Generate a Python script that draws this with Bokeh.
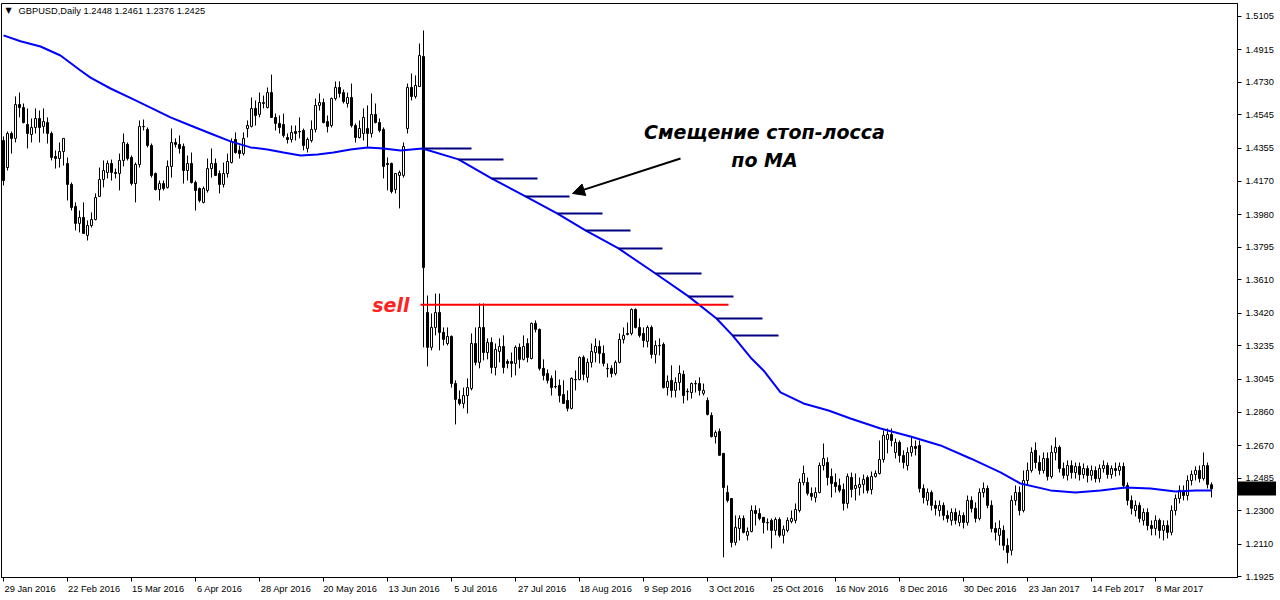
import pandas as pd
from bokeh.plotting import figure
from bokeh.models import (ColumnDataSource, Range1d, FixedTicker, PrintfTickFormatter,
                          CustomJSTickFormatter, Label, Arrow, NormalHead)
from bokeh.embed import file_html
from bokeh.resources import INLINE

# ---------------- data (GBPUSD daily) ----------------
dates = pd.bdate_range("2016-01-29", periods=303)

opens = [
    1.4400, 1.4247, 1.4440, 1.4412, 1.4604, 1.4587, 1.4491, 1.4434, 1.4474, 1.4525,
    1.4480, 1.4502, 1.4440, 1.4309, 1.4298, 1.4338, 1.4270, 1.4151, 1.4026, 1.3930,
    1.3964, 1.3862, 1.3918, 1.3952, 1.4083, 1.4179, 1.4219, 1.4270, 1.4219, 1.4213,
    1.4287, 1.4378, 1.4304, 1.4156, 1.4264, 1.4480, 1.4463, 1.4372, 1.4213, 1.4122,
    1.4156, 1.4134, 1.4253, 1.4389, 1.4378, 1.4366, 1.4230, 1.4270, 1.4162, 1.4128,
    1.4049, 1.4117, 1.4241, 1.4270, 1.4213, 1.4151, 1.4213, 1.4275, 1.4406, 1.4344,
    1.4326, 1.4468, 1.4480, 1.4582, 1.4548, 1.4610, 1.4587, 1.4672, 1.4531, 1.4497,
    1.4491, 1.4417, 1.4406, 1.4451, 1.4451, 1.4457, 1.4355, 1.4400, 1.4463, 1.4599,
    1.4616, 1.4508, 1.4485, 1.4638, 1.4701, 1.4672, 1.4610, 1.4644, 1.4485, 1.4417,
    1.4440, 1.4468, 1.4440, 1.4548, 1.4502, 1.4463, 1.4270, 1.4270, 1.4122, 1.4202,
    1.4202, 1.4468, 1.4701, 1.4650, 1.4706, 1.4876, 1.3425, 1.3227, 1.3340, 1.3425,
    1.3312, 1.3249, 1.3289, 1.3022, 1.2932, 1.2909, 1.2954, 1.2994, 1.3249, 1.3142,
    1.3340, 1.3198, 1.3255, 1.3113, 1.3204, 1.3232, 1.3147, 1.3147, 1.3136, 1.3227,
    1.3159, 1.3249, 1.3164, 1.3363, 1.3329, 1.3108, 1.3079, 1.3051, 1.3005, 1.3011,
    1.2960, 1.2926, 1.2881, 1.3045, 1.3045, 1.3170, 1.3057, 1.3142, 1.3198, 1.3232,
    1.3193, 1.3108, 1.3108, 1.3079, 1.3142, 1.3272, 1.3300, 1.3306, 1.3442, 1.3340,
    1.3306, 1.3261, 1.3340, 1.3187, 1.3238, 1.3244, 1.2999, 1.3040, 1.2983, 1.3028,
    1.3074, 1.2977, 1.2971, 1.3022, 1.3022, 1.2966, 1.2926, 1.2841, 1.2721, 1.2750,
    1.2626, 1.2404, 1.2370, 1.2121, 1.2200, 1.2257, 1.2161, 1.2183, 1.2302, 1.2285,
    1.2263, 1.2234, 1.2246, 1.2189, 1.2251, 1.2161, 1.2189, 1.2240, 1.2246, 1.2302,
    1.2461, 1.2461, 1.2399, 1.2376, 1.2404, 1.2557, 1.2574, 1.2495, 1.2461, 1.2444,
    1.2421, 1.2342, 1.2489, 1.2427, 1.2433, 1.2450, 1.2489, 1.2421, 1.2495, 1.2512,
    1.2591, 1.2705, 1.2733, 1.2631, 1.2688, 1.2614, 1.2557, 1.2631, 1.2665, 1.2671,
    1.2427, 1.2359, 1.2404, 1.2331, 1.2302, 1.2331, 1.2274, 1.2246, 1.2291, 1.2234,
    1.2274, 1.2234, 1.2359, 1.2314, 1.2257, 1.2404, 1.2427, 1.2331, 1.2200, 1.2161,
    1.2189, 1.2104, 1.2076, 1.2359, 1.2404, 1.2302, 1.2472, 1.2529, 1.2643, 1.2574,
    1.2529, 1.2597, 1.2495, 1.2631, 1.2660, 1.2540, 1.2501, 1.2557, 1.2517, 1.2552,
    1.2506, 1.2540, 1.2501, 1.2529, 1.2483, 1.2540, 1.2557, 1.2506, 1.2540, 1.2529,
    1.2552, 1.2444, 1.2359, 1.2302, 1.2331, 1.2246, 1.2291, 1.2217, 1.2200, 1.2246,
    1.2189, 1.2217, 1.2178, 1.2302, 1.2370, 1.2416, 1.2387, 1.2472, 1.2506, 1.2529,
    1.2483, 1.2557, 1.2448,
]

highs = [
    1.4423, 1.4451, 1.4451, 1.4650, 1.4672, 1.4610, 1.4582, 1.4525, 1.4582, 1.4570,
    1.4582, 1.4531, 1.4451, 1.4344, 1.4389, 1.4412, 1.4304, 1.4162, 1.4049, 1.4003,
    1.4049, 1.3947, 1.3992, 1.4100, 1.4247, 1.4287, 1.4287, 1.4292, 1.4241, 1.4326,
    1.4440, 1.4389, 1.4315, 1.4275, 1.4514, 1.4519, 1.4474, 1.4383, 1.4219, 1.4173,
    1.4173, 1.4287, 1.4468, 1.4412, 1.4429, 1.4383, 1.4315, 1.4332, 1.4173, 1.4134,
    1.4139, 1.4298, 1.4355, 1.4298, 1.4230, 1.4275, 1.4326, 1.4412, 1.4446, 1.4372,
    1.4446, 1.4514, 1.4644, 1.4627, 1.4672, 1.4655, 1.4701, 1.4774, 1.4553, 1.4542,
    1.4553, 1.4440, 1.4485, 1.4485, 1.4531, 1.4468, 1.4417, 1.4514, 1.4638, 1.4667,
    1.4638, 1.4542, 1.4644, 1.4735, 1.4735, 1.4689, 1.4672, 1.4723, 1.4497, 1.4514,
    1.4582, 1.4599, 1.4667, 1.4610, 1.4525, 1.4474, 1.4304, 1.4275, 1.4213, 1.4230,
    1.4389, 1.4723, 1.4780, 1.4769, 1.4950, 1.5024, 1.3521, 1.3419, 1.3532, 1.3532,
    1.3340, 1.3340, 1.3295, 1.3040, 1.2983, 1.2999, 1.3051, 1.3306, 1.3340, 1.3476,
    1.3476, 1.3278, 1.3283, 1.3249, 1.3278, 1.3295, 1.3159, 1.3198, 1.3238, 1.3249,
    1.3295, 1.3278, 1.3368, 1.3380, 1.3334, 1.3159, 1.3102, 1.3068, 1.3096, 1.3045,
    1.3040, 1.2983, 1.3057, 1.3096, 1.3176, 1.3181, 1.3164, 1.3249, 1.3278, 1.3266,
    1.3238, 1.3136, 1.3125, 1.3153, 1.3306, 1.3340, 1.3368, 1.3448, 1.3448, 1.3391,
    1.3340, 1.3351, 1.3351, 1.3266, 1.3278, 1.3255, 1.3068, 1.3125, 1.3057, 1.3125,
    1.3096, 1.2994, 1.3028, 1.3040, 1.3057, 1.3022, 1.2943, 1.2858, 1.2756, 1.2767,
    1.2626, 1.2444, 1.2370, 1.2274, 1.2274, 1.2274, 1.2206, 1.2331, 1.2331, 1.2314,
    1.2263, 1.2257, 1.2257, 1.2263, 1.2263, 1.2217, 1.2263, 1.2302, 1.2342, 1.2483,
    1.2557, 1.2489, 1.2433, 1.2433, 1.2574, 1.2682, 1.2603, 1.2540, 1.2512, 1.2483,
    1.2455, 1.2512, 1.2517, 1.2512, 1.2489, 1.2506, 1.2501, 1.2523, 1.2529, 1.2699,
    1.2756, 1.2767, 1.2767, 1.2710, 1.2699, 1.2643, 1.2660, 1.2716, 1.2699, 1.2699,
    1.2450, 1.2427, 1.2416, 1.2359, 1.2359, 1.2348, 1.2302, 1.2314, 1.2314, 1.2302,
    1.2291, 1.2387, 1.2382, 1.2348, 1.2427, 1.2461, 1.2444, 1.2359, 1.2234, 1.2246,
    1.2217, 1.2144, 1.2387, 1.2444, 1.2438, 1.2529, 1.2574, 1.2660, 1.2688, 1.2614,
    1.2631, 1.2631, 1.2671, 1.2716, 1.2671, 1.2574, 1.2586, 1.2586, 1.2574, 1.2574,
    1.2569, 1.2557, 1.2557, 1.2552, 1.2563, 1.2586, 1.2574, 1.2557, 1.2574, 1.2574,
    1.2574, 1.2461, 1.2387, 1.2359, 1.2348, 1.2314, 1.2314, 1.2246, 1.2274, 1.2257,
    1.2246, 1.2246, 1.2331, 1.2393, 1.2444, 1.2444, 1.2501, 1.2529, 1.2552, 1.2557,
    1.2631, 1.2574, 1.2461,
]

lows = [
    1.4145, 1.4230, 1.4326, 1.4389, 1.4531, 1.4497, 1.4355, 1.4389, 1.4440, 1.4389,
    1.4440, 1.4383, 1.4287, 1.4241, 1.4247, 1.4258, 1.4060, 1.4003, 1.3890, 1.3879,
    1.3873, 1.3833, 1.3907, 1.3947, 1.4083, 1.4134, 1.4185, 1.4173, 1.4185, 1.4117,
    1.4253, 1.4287, 1.4145, 1.4049, 1.4247, 1.4457, 1.4361, 1.4190, 1.4117, 1.4060,
    1.4117, 1.4128, 1.4190, 1.4361, 1.4326, 1.4156, 1.4173, 1.4156, 1.4003, 1.4049,
    1.4043, 1.4105, 1.4190, 1.4202, 1.4100, 1.4134, 1.4190, 1.4270, 1.4326, 1.4298,
    1.4315, 1.4417, 1.4474, 1.4485, 1.4531, 1.4582, 1.4582, 1.4531, 1.4457, 1.4440,
    1.4417, 1.4383, 1.4389, 1.4400, 1.4412, 1.4344, 1.4332, 1.4389, 1.4446, 1.4570,
    1.4497, 1.4446, 1.4474, 1.4627, 1.4644, 1.4610, 1.4587, 1.4474, 1.4389, 1.4412,
    1.4400, 1.4361, 1.4417, 1.4497, 1.4446, 1.4185, 1.4117, 1.4100, 1.4100, 1.4015,
    1.4190, 1.4440, 1.4627, 1.4638, 1.4706, 1.3227, 1.3119, 1.3210, 1.3295, 1.3210,
    1.3238, 1.3238, 1.2999, 1.2790, 1.2898, 1.2881, 1.2852, 1.2983, 1.3125, 1.3108,
    1.3153, 1.3159, 1.3079, 1.3068, 1.3142, 1.3079, 1.3108, 1.3057, 1.3068, 1.3108,
    1.3153, 1.3142, 1.3159, 1.3312, 1.3096, 1.3040, 1.3022, 1.2954, 1.2994, 1.2915,
    1.2909, 1.2864, 1.2875, 1.2983, 1.3040, 1.3040, 1.3028, 1.3113, 1.3142, 1.3136,
    1.3119, 1.3057, 1.3057, 1.3068, 1.3136, 1.3249, 1.3295, 1.3295, 1.3334, 1.3283,
    1.3227, 1.3227, 1.3164, 1.3136, 1.3181, 1.2994, 1.2954, 1.2943, 1.2943, 1.2983,
    1.2909, 1.2926, 1.2937, 1.2971, 1.2954, 1.2954, 1.2841, 1.2716, 1.2682, 1.2615,
    1.2036, 1.2348, 1.2093, 1.2104, 1.2132, 1.2172, 1.2132, 1.2178, 1.2217, 1.2246,
    1.2172, 1.2189, 1.2087, 1.2161, 1.2149, 1.2115, 1.2178, 1.2229, 1.2229, 1.2291,
    1.2444, 1.2387, 1.2359, 1.2348, 1.2399, 1.2529, 1.2444, 1.2376, 1.2404, 1.2404,
    1.2302, 1.2314, 1.2376, 1.2359, 1.2387, 1.2399, 1.2399, 1.2393, 1.2489, 1.2506,
    1.2574, 1.2626, 1.2665, 1.2597, 1.2574, 1.2540, 1.2529, 1.2608, 1.2614, 1.2404,
    1.2342, 1.2331, 1.2302, 1.2274, 1.2268, 1.2246, 1.2234, 1.2217, 1.2223, 1.2212,
    1.2200, 1.2217, 1.2291, 1.2234, 1.2246, 1.2376, 1.2314, 1.2178, 1.2132, 1.2104,
    1.2076, 1.2002, 1.2047, 1.2331, 1.2274, 1.2291, 1.2444, 1.2517, 1.2540, 1.2506,
    1.2512, 1.2472, 1.2483, 1.2586, 1.2517, 1.2483, 1.2472, 1.2483, 1.2483, 1.2472,
    1.2483, 1.2461, 1.2472, 1.2461, 1.2461, 1.2517, 1.2483, 1.2483, 1.2495, 1.2501,
    1.2427, 1.2331, 1.2280, 1.2268, 1.2234, 1.2217, 1.2189, 1.2161, 1.2161, 1.2144,
    1.2132, 1.2144, 1.2161, 1.2274, 1.2342, 1.2359, 1.2359, 1.2444, 1.2472, 1.2461,
    1.2472, 1.2427, 1.2376,
]

closes = [
    1.4173, 1.4440, 1.4412, 1.4604, 1.4587, 1.4502, 1.4440, 1.4474, 1.4525, 1.4474,
    1.4508, 1.4440, 1.4304, 1.4298, 1.4338, 1.4412, 1.4151, 1.4020, 1.3930, 1.3964,
    1.3873, 1.3918, 1.3952, 1.4077, 1.4179, 1.4230, 1.4270, 1.4219, 1.4213, 1.4287,
    1.4389, 1.4298, 1.4156, 1.4264, 1.4480, 1.4478, 1.4372, 1.4202, 1.4122, 1.4156,
    1.4128, 1.4253, 1.4389, 1.4378, 1.4355, 1.4230, 1.4270, 1.4162, 1.4117, 1.4060,
    1.4128, 1.4241, 1.4270, 1.4202, 1.4151, 1.4213, 1.4281, 1.4395, 1.4332, 1.4326,
    1.4412, 1.4485, 1.4582, 1.4542, 1.4616, 1.4616, 1.4672, 1.4531, 1.4497, 1.4474,
    1.4429, 1.4406, 1.4446, 1.4440, 1.4449, 1.4372, 1.4406, 1.4463, 1.4599, 1.4616,
    1.4502, 1.4480, 1.4638, 1.4701, 1.4667, 1.4621, 1.4644, 1.4485, 1.4417, 1.4468,
    1.4531, 1.4440, 1.4548, 1.4502, 1.4457, 1.4253, 1.4264, 1.4111, 1.4213, 1.4219,
    1.4366, 1.4701, 1.4650, 1.4712, 1.4882, 1.3680, 1.3227, 1.3340, 1.3425, 1.3312,
    1.3272, 1.3289, 1.3022, 1.2932, 1.2909, 1.2954, 1.2999, 1.3249, 1.3142, 1.3340,
    1.3198, 1.3255, 1.3113, 1.3215, 1.3232, 1.3113, 1.3136, 1.3136, 1.3227, 1.3159,
    1.3232, 1.3170, 1.3363, 1.3329, 1.3108, 1.3068, 1.3040, 1.2999, 1.3003, 1.2954,
    1.2909, 1.2881, 1.3051, 1.3043, 1.3170, 1.3074, 1.3142, 1.3204, 1.3232, 1.3193,
    1.3136, 1.3106, 1.3079, 1.3142, 1.3272, 1.3295, 1.3306, 1.3442, 1.3340, 1.3295,
    1.3266, 1.3340, 1.3187, 1.3238, 1.3236, 1.2999, 1.3034, 1.2983, 1.3028, 1.3079,
    1.2954, 1.2975, 1.3022, 1.3020, 1.2983, 1.2983, 1.2847, 1.2721, 1.2744, 1.2615,
    1.2432, 1.2359, 1.2121, 1.2206, 1.2257, 1.2178, 1.2183, 1.2302, 1.2285, 1.2257,
    1.2234, 1.2232, 1.2189, 1.2251, 1.2161, 1.2195, 1.2246, 1.2257, 1.2308, 1.2461,
    1.2512, 1.2399, 1.2382, 1.2404, 1.2557, 1.2597, 1.2489, 1.2455, 1.2438, 1.2416,
    1.2342, 1.2495, 1.2421, 1.2444, 1.2450, 1.2478, 1.2416, 1.2495, 1.2512, 1.2591,
    1.2728, 1.2733, 1.2699, 1.2688, 1.2614, 1.2574, 1.2631, 1.2665, 1.2654, 1.2427,
    1.2376, 1.2404, 1.2331, 1.2314, 1.2331, 1.2274, 1.2257, 1.2291, 1.2246, 1.2274,
    1.2234, 1.2359, 1.2314, 1.2257, 1.2404, 1.2427, 1.2331, 1.2200, 1.2178, 1.2200,
    1.2104, 1.2064, 1.2359, 1.2404, 1.2302, 1.2472, 1.2529, 1.2631, 1.2574, 1.2529,
    1.2597, 1.2495, 1.2631, 1.2660, 1.2540, 1.2501, 1.2557, 1.2517, 1.2552, 1.2506,
    1.2540, 1.2501, 1.2529, 1.2483, 1.2540, 1.2557, 1.2506, 1.2540, 1.2529, 1.2552,
    1.2444, 1.2359, 1.2314, 1.2331, 1.2257, 1.2291, 1.2217, 1.2200, 1.2246, 1.2189,
    1.2217, 1.2178, 1.2302, 1.2370, 1.2416, 1.2387, 1.2472, 1.2506, 1.2529, 1.2483,
    1.2557, 1.2450, 1.2425,
]

# moving average (bar position, price)
ma_bar = [0, 4.25, 9.25, 14.25, 19.25, 21.75, 26.75, 32.5, 36.75, 41.75, 46.75, 51.75,
          56.75, 61.75, 66, 70, 74.25, 78.5, 82.5, 86.75, 91, 95, 99.25, 104.75, 113.75,
          122, 130.5, 138.5, 145.5, 153.75, 163, 171.25, 178.25, 182.25, 186.75, 190,
          194.25, 200, 206.25, 211.75, 219.25, 226.75, 234.25, 241.75, 249.25, 254.25,
          261.75, 268, 274.25, 280.5, 286.75, 293, 298, 302]
ma_val = [1.4996, 1.4963, 1.4933, 1.4882, 1.4797, 1.4757, 1.4695, 1.4633, 1.4587, 1.4531,
          1.4485, 1.4440, 1.4395, 1.4361, 1.4349, 1.4332, 1.4315, 1.4321, 1.4332, 1.4349,
          1.4361, 1.4355, 1.4344, 1.4355, 1.4293, 1.4185, 1.4083, 1.3986, 1.3890, 1.3788,
          1.3646, 1.3516, 1.3391, 1.3295, 1.3170, 1.3096, 1.2972, 1.2909, 1.2869, 1.2824,
          1.2767, 1.2722, 1.2671, 1.2597, 1.2518, 1.2455, 1.2416, 1.2404, 1.2416, 1.2433,
          1.2427, 1.2410, 1.2416, 1.2416]

# trailing stop-loss steps (start bar, end bar, level)
sl_start = [104.75, 113.75, 122, 130.5, 138.5, 145.5, 153.75, 163, 171.25, 178.25, 182.25]
sl_end = [117, 125, 133.5, 141.5, 149.75, 156.75, 164.75, 174.5, 182.5, 189.75, 193.75]
sl_level = [1.4355, 1.4293, 1.4185, 1.4083, 1.3986, 1.3890, 1.3788, 1.3646, 1.3516, 1.3391, 1.3295]

sell_level = 1.3468
sell_from, sell_to = 104.25, 181.25

x_ticks = list(range(0, 289, 16))
x_tick_labels = ["29 Jan 2016", "22 Feb 2016", "15 Mar 2016", "6 Apr 2016", "28 Apr 2016",
                 "20 May 2016", "13 Jun 2016", "5 Jul 2016", "27 Jul 2016", "18 Aug 2016",
                 "9 Sep 2016", "3 Oct 2016", "25 Oct 2016", "16 Nov 2016", "8 Dec 2016",
                 "30 Dec 2016", "23 Jan 2017", "14 Feb 2017", "8 Mar 2017"]
y_ticks = [1.5105, 1.4915, 1.4730, 1.4545, 1.4355, 1.4170, 1.3980, 1.3795, 1.3610, 1.3420,
           1.3235, 1.3045, 1.2860, 1.2670, 1.2485, 1.2300, 1.2110, 1.1925]

header = "GBPUSD,Daily  1.2448 1.2461 1.2376 1.2425"
last_price = 1.2425

# ---------------- figure ----------------
FONT = "Liberation Sans"
FS = "9.3px"
Y0, Y1 = 1.1922, 1.5177
FW, FH = 1236, 574
p = figure(frame_width=FW, frame_height=FH, output_backend="svg", toolbar_location=None,
           x_range=Range1d(-0.5, 308.5), y_range=Range1d(Y0, Y1),
           y_axis_location="right", min_border_left=1, min_border_top=3,
           min_border_right=0, min_border_bottom=0)
p.grid.visible = False
p.background_fill_color = "white"
p.border_fill_color = "white"
p.outline_line_color = "black"
p.outline_line_width = 1

for ax in (p.xaxis[0], p.yaxis[0]):
    ax.axis_line_color = "black"
    ax.major_tick_line_color = "black"
    ax.major_tick_in = 0
    ax.major_tick_out = 4
    ax.minor_tick_line_color = None
    ax.major_label_text_font = FONT
    ax.major_label_text_font_size = FS
    ax.major_label_text_color = "black"

# date labels start at their tick (MetaTrader style): label centres sit right of the tick,
# the tick marks themselves are drawn as minor ticks at the bar positions
label_centres = [t + (1 + len(s) * 4.65 / 2) / 4.0 for t, s in zip(x_ticks, x_tick_labels)]
p.xaxis.ticker = FixedTicker(ticks=label_centres, minor_ticks=x_ticks)
p.xaxis.formatter = CustomJSTickFormatter(args=dict(labels=x_tick_labels),
                                          code="return labels[index] || '';")
p.xaxis.major_tick_line_color = None
p.xaxis.minor_tick_line_color = "black"
p.xaxis.minor_tick_in = 0
p.xaxis.minor_tick_out = 4
p.xaxis.major_label_standoff = 2

# price scale; the last price gets a black marker drawn as a heavy minor tick.
# The label standoff compensates the long minor tick so the labels stay next to the axis.
p.yaxis.formatter = PrintfTickFormatter(format="%.4f")
marker_ok = True
try:
    p.yaxis.major_label_standoff = 4 - (41 - 4)
except Exception:
    marker_ok = False
if marker_ok:
    p.yaxis.ticker = FixedTicker(ticks=y_ticks, minor_ticks=[last_price])
    p.yaxis.minor_tick_line_color = "black"
    p.yaxis.minor_tick_line_width = 14
    p.yaxis.minor_tick_in = 0
    p.yaxis.minor_tick_out = 41
else:
    p.yaxis.ticker = FixedTicker(ticks=y_ticks)
    p.yaxis.major_label_standoff = 4

# candles
xs = list(range(len(closes)))
src = ColumnDataSource(dict(
    x=xs, o=opens, h=highs, l=lows, c=closes,
    top=[max(o, c) for o, c in zip(opens, closes)],
    bottom=[min(o, c) for o, c in zip(opens, closes)],
    fill=["white" if c >= o else "black" for o, c in zip(opens, closes)],
))
p.segment(x0="x", y0="l", x1="x", y1="h", source=src, line_color="black", line_width=1)
p.vbar(x="x", width=0.5, top="top", bottom="bottom", fill_color="fill",
       line_color="black", line_width=1, source=src)

# moving average
p.line(ma_bar, ma_val, line_color="#0000ff", line_width=2)

# stop-loss steps
p.segment(x0=sl_start, y0=sl_level, x1=sl_end, y1=sl_level, line_color="#000080", line_width=2)

# sell level
p.segment(x0=[sell_from], y0=[sell_level], x1=[sell_to], y1=[sell_level],
          line_color="#ff0000", line_width=2)

# annotations
p.add_layout(Label(x=101.5, y=sell_level, text="sell", text_color="#ff2222",
                   text_font="DejaVu Sans", text_font_style="bold italic",
                   text_font_size="19px", text_align="right", text_baseline="middle"))
p.add_layout(Label(x=190.25, y=1.4446, text="Смещение стоп-лосса", text_color="black",
                   text_font="DejaVu Sans", text_font_style="bold italic",
                   text_font_size="19px", text_align="center", text_baseline="middle"))
p.add_layout(Label(x=190.25, y=1.4287, text="по МА", text_color="black",
                   text_font="DejaVu Sans", text_font_style="bold italic",
                   text_font_size="19px", text_align="center", text_baseline="middle"))
p.add_layout(Arrow(end=NormalHead(size=12, fill_color="black", line_color="black"),
                   x_start=169.25, y_start=1.4298, x_end=142.25, y_end=1.4100,
                   line_color="black", line_width=2))

p.add_layout(Label(x=0.5, y=1.5137, text="▼", text_color="black", text_font="DejaVu Sans",
                   text_font_size="8px", text_baseline="middle"))
p.add_layout(Label(x=3.75, y=1.5137, text=header, text_color="black", text_font=FONT,
                   text_font_size=FS, text_baseline="middle"))

# white last-price text on the marker (HTML label, not clipped to the frame)
try:
    from bokeh.models import HTMLLabel
    p.add_layout(HTMLLabel(x=FW + 6, x_units="canvas", y=last_price, y_units="data",
                           text="1.2425", text_color="white", text_font=FONT,
                           text_font_size=FS, text_baseline="middle", text_align="left",
                           background_fill_color="black"))
except Exception:
    pass

open("out.html", "w").write(file_html(p, INLINE))
